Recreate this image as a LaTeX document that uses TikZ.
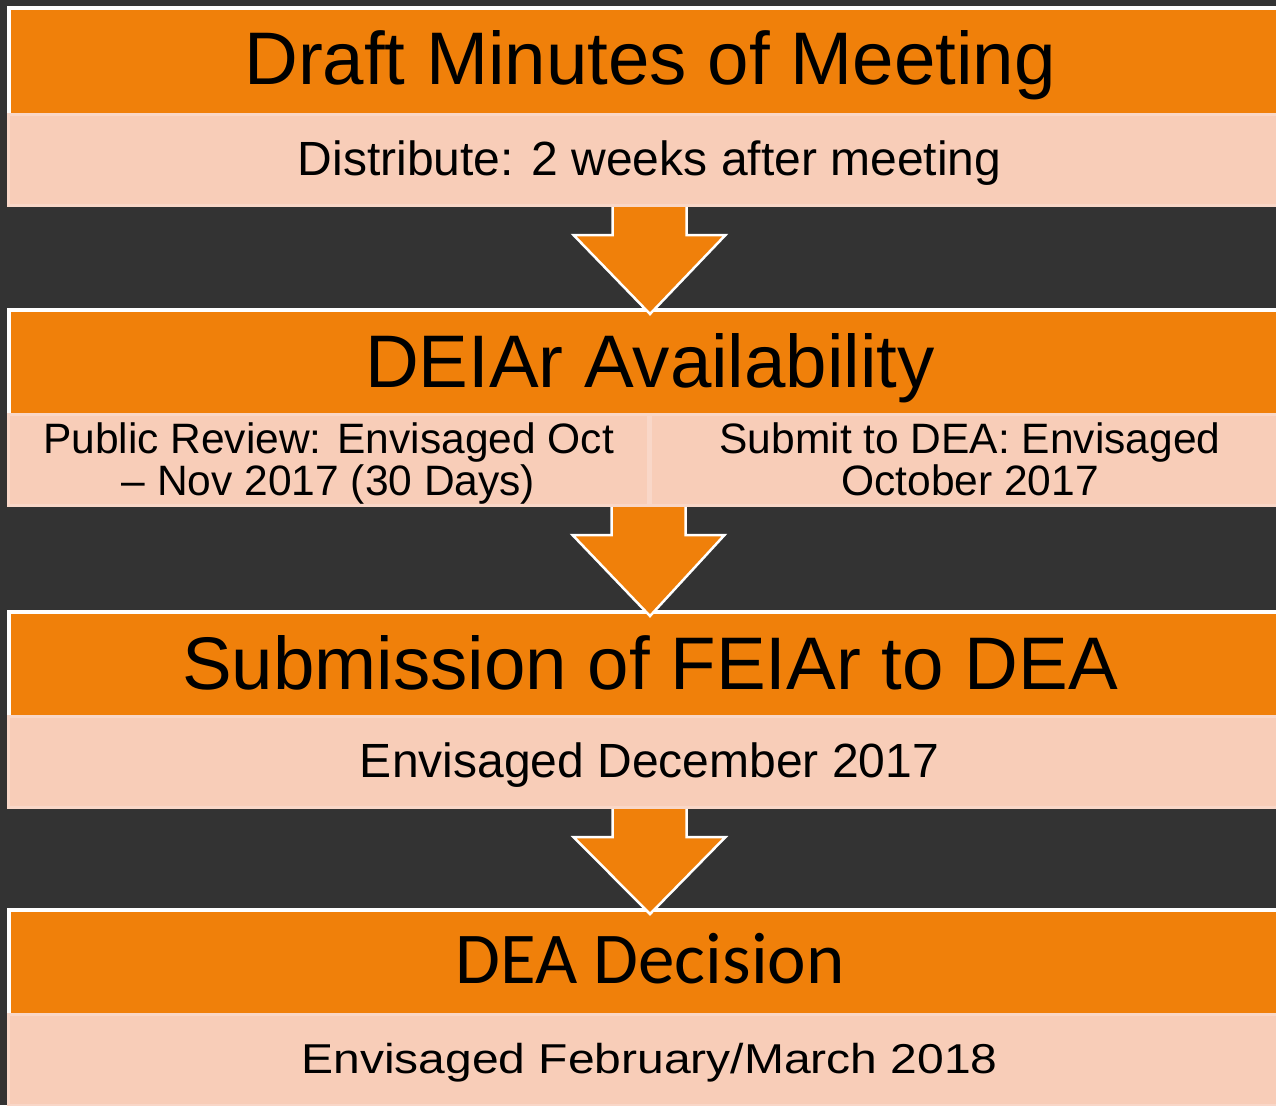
\documentclass[tikz,border=0pt]{standalone}
\usepackage{fontspec}
\setmainfont{Liberation Sans}
\newfontfamily\calibrifont{Carlito}
\usetikzlibrary{positioning, calc}
\definecolor{bgdark}{HTML}{333333}
\definecolor{boxorange}{HTML}{F0800A}
\definecolor{boxpeach}{HTML}{F8CDB8}
\definecolor{peachedge}{HTML}{F9D7C8}

\begin{document}
\begin{tikzpicture}[
  x=1pt, y=-1pt,
  head/.style={draw=white, line width=4pt, fill=boxorange, anchor=north west,
    minimum width=1282pt, minimum height=110pt, inner sep=0pt, outer sep=0pt,
    text height=44pt, text depth=0pt, font=\fontsize{74.5}{80}\selectfont},
  body/.style={draw=peachedge, line width=3pt, fill=boxpeach, anchor=north west,
    minimum width=1282pt, minimum height=91pt, inner sep=0pt, outer sep=0pt,
    text height=30pt, text depth=0pt, font=\fontsize{48}{52}\selectfont},
  halfbody/.style={body, minimum width=640pt, text height=70pt, text depth=0pt,
    align=center, font=\fontsize{42.5}{42}\selectfont},
  downarr/.style={fill=boxorange, draw=white, line width=2.5pt, line join=miter}
]
\useasboundingbox (0,0) rectangle (1276,1105);
\fill[bgdark] (0,0) rectangle (1276,1105);

% step 1
\node[head] (h1) at (9,8) {Draft Minutes of Meeting};
\node[body] (b1) at (8.5,114.5) {Distribute: 2 weeks after meeting};

% step 2
\node[head] (h2) at (9,310) {DEIAr Availability};
\node[halfbody] (b2a) at (8.5,414.5) {Public Review: Envisaged Oct\\ -- Nov 2017 (30 Days)};
\node[halfbody] (b2b) at (650,414.5) {Submit to DEA: Envisaged\\ October 2017};

% step 3
\node[head] (h3) at (9,612) {Submission of FEIAr to DEA};
\node[body] (b3) at (8.5,716.5) {Envisaged December 2017};

% step 4
\node[head, text height=36pt, font=\calibrifont\fontsize{73}{78}\selectfont] (h4) at (9,910) {DEA Decision};
\node[body, text height=26pt] (b4) at (8.5,1014.5) {\scalebox{1}[0.87]{Envisaged February/March 2018}};

% block arrows
\path[downarr] ($(b1.south)+(-37,1.5)$) -- ++(0,28) -- ++(-39,0) -- ($(h2.north)+(0,4)$)
  -- ($(b1.south)+(76,29.5)$) -- ++(-39,0) -- ++(0,-28);
\path[downarr] ($(b2a.south east)+(-37,1.5)$) -- ++(0,28) -- ++(-39,0) -- ($(h3.north)+(0,4)$)
  -- ($(b2a.south east)+(76,29.5)$) -- ++(-39,0) -- ++(0,-28);
\path[downarr] ($(b3.south)+(-37,1.5)$) -- ++(0,28) -- ++(-39,0) -- ($(h4.north)+(0,4)$)
  -- ($(b3.south)+(76,29.5)$) -- ++(-39,0) -- ++(0,-28);
\end{tikzpicture}
\end{document}
